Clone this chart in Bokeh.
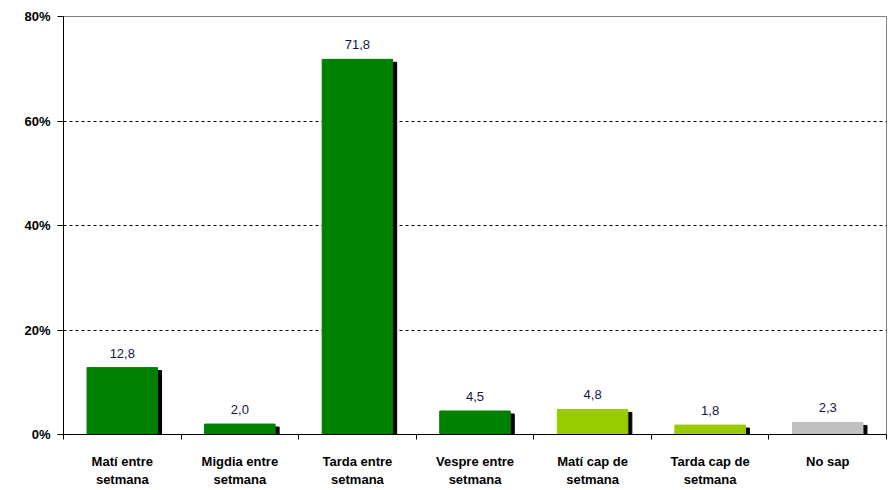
from bokeh.plotting import figure
from bokeh.models import ColumnDataSource, FixedTicker, Range1d
from bokeh.core.properties import value
from bokeh.embed import file_html
from bokeh.resources import INLINE

categories = ["Matí entre\nsetmana", "Migdia entre\nsetmana", "Tarda entre\nsetmana",
              "Vespre entre\nsetmana", "Matí cap de\nsetmana", "Tarda cap de\nsetmana", "No sap"]
values = [12.8, 2.0, 71.8, 4.5, 4.8, 1.8, 2.3]
colors = ["#008000", "#008000", "#008000", "#008000", "#99CC00", "#99CC00", "#C0C0C0"]
y_ticks = [0, 20, 40, 60, 80]
y_tick_labels = ["0%", "20%", "40%", "60%", "80%"]

n = len(categories)
xs = [i + 0.5 for i in range(n)]
labels = [f"{v:.1f}".replace(".", ",") for v in values]

# shadow offset (style): ~4px right, ~3px down
sx = 0.034
sy = 0.57

src = ColumnDataSource(dict(
    x=xs, top=values, color=colors, label=labels,
    sx=[x + sx for x in xs], stop=[v - sy for v in values],
))

p = figure(width=887, height=489, output_backend="svg", toolbar_location=None,
           x_range=Range1d(0, n), y_range=Range1d(0, 80),
           min_border_left=63, min_border_top=16, min_border_bottom=53, min_border_right=1)
p.background_fill_color = "white"
p.border_fill_color = "white"
p.outline_line_color = "#808080"
p.outline_line_width = 1

p.vbar(x="sx", top="stop", bottom=0, width=0.6, source=src, color="black")
p.vbar(x="x", top="top", bottom=0, width=0.6, source=src, fill_color="color", line_color="color")
p.text(x="x", y="top", text="label", source=src, text_align="center", text_baseline="bottom",
       y_offset=-10, text_font=value("Liberation Sans"), text_font_size="13px", text_color="#14144a")

# x axis
xa = p.xaxis[0]
xa.ticker = FixedTicker(ticks=xs, minor_ticks=list(range(n + 1)))
xa.major_label_overrides = {x: c for x, c in zip(xs, categories)}
xa.major_tick_out = 0
xa.major_tick_in = 0
xa.minor_tick_out = 5
xa.minor_tick_in = 0
xa.minor_tick_line_color = "black"
xa.axis_line_color = "black"
xa.major_label_standoff = 14
xa.major_label_text_font = "Liberation Sans"
xa.major_label_text_font_style = "bold"
xa.major_label_text_font_size = "13px"
xa.major_label_text_color = "black"

# y axis
ya = p.yaxis[0]
ya.ticker = FixedTicker(ticks=y_ticks, minor_ticks=[])
ya.major_label_overrides = {t: l for t, l in zip(y_ticks, y_tick_labels)}
ya.major_tick_out = 6
ya.major_tick_in = 0
ya.minor_tick_out = 0
ya.minor_tick_in = 0
ya.axis_line_color = "black"
ya.major_tick_line_color = "black"
ya.major_label_standoff = 7
ya.major_label_text_font = "Liberation Sans"
ya.major_label_text_font_style = "bold"
ya.major_label_text_font_size = "13px"
ya.major_label_text_color = "black"

p.xgrid.visible = False
p.ygrid.ticker = FixedTicker(ticks=y_ticks[1:-1])
p.ygrid.grid_line_color = "black"
p.ygrid.grid_line_dash = "3 3"
p.ygrid.grid_line_width = 1

open("out.html", "w").write(file_html(p, INLINE))
